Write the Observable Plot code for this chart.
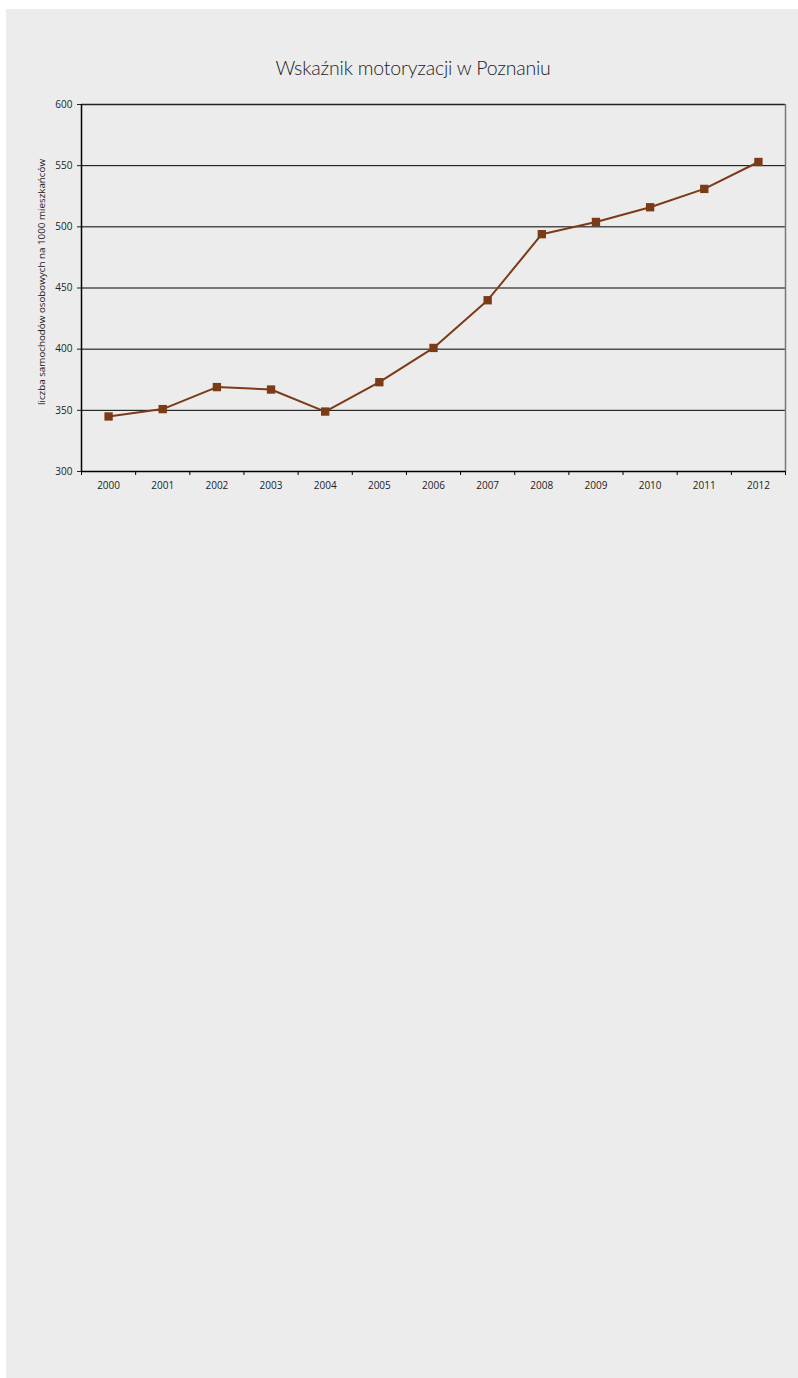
<!DOCTYPE html>
<html>
<head>
<meta charset="utf-8">
<script src="https://cdn.jsdelivr.net/npm/d3@7"></script>
<script src="https://cdn.jsdelivr.net/npm/@observablehq/plot@0.6"></script>
<style>
  html, body { margin: 0; padding: 0; background: #fff; }
  #panel { position: absolute; left: 6px; top: 9px; width: 792px; height: 1369px; background: #ececec; }
  #title { position: absolute; left: 0; top: 56px; width: 826px; text-align: center; font-family: Lato, "Open Sans", sans-serif; font-weight: 300; font-size: 19.5px; color: #222; letter-spacing: -0.2px; }
  #chart { position: absolute; left: 0; top: 0; }
</style>
</head>
<body>
<div id="panel"></div>
<div id="title">Wskaźnik motoryzacji w Poznaniu</div>
<div id="chart"></div>
<script>
const years = [2000, 2001, 2002, 2003, 2004, 2005, 2006, 2007, 2008, 2009, 2010, 2011, 2012];
const values = [345, 351, 369, 367, 349, 373, 401, 440, 494, 504, 516, 531, 553];
const yTicks = [300, 350, 400, 450, 500, 550, 600];
const yLabel = "liczba samochodów osobowych na 1000 mieszkańców";

const data = years.map((y, i) => ({year: y, value: values[i]}));
const bounds = years.map(y => y - 0.5).concat([years[years.length - 1] + 0.5]);

const chart = Plot.plot({
  width: 798,
  height: 500,
  marginLeft: 81,
  marginRight: 13,
  marginTop: 104,
  marginBottom: 29,
  style: {background: "transparent", fontFamily: "'Open Sans', sans-serif", fontSize: "10px", color: "#222"},
  x: {type: "linear", domain: [bounds[0], bounds[bounds.length - 1]]},
  y: {domain: [300, 600]},
  marks: [
    Plot.ruleY(yTicks.slice(1, -1), {stroke: "#000", strokeWidth: 1}),
    Plot.ruleY([600], {stroke: "#222", strokeWidth: 1.5}),
    Plot.ruleX([bounds[bounds.length - 1]], {stroke: "#777", strokeWidth: 1.5}),
    Plot.axisX({ticks: bounds, tickSize: 4, tickFormat: () => "", label: null, stroke: "#000"}),
    Plot.axisX({ticks: years, tickSize: 0, tickPadding: 10, tickFormat: d => String(d), label: null}),
    Plot.axisY({ticks: yTicks, tickSize: 4, tickPadding: 5, label: null}),
    Plot.text([yLabel], {frameAnchor: "left", text: d => d, textAnchor: "middle", rotate: -90, dx: -40, dy: -6, fontSize: 9.8, fill: "#222"}),
    Plot.ruleX([bounds[0]], {stroke: "#000", strokeWidth: 1.5}),
    Plot.ruleY([300], {stroke: "#000", strokeWidth: 1.5}),
    Plot.line(data, {x: "year", y: "value", stroke: "#7a3b16", strokeWidth: 2}),
    Plot.dot(data, {x: "year", y: "value", symbol: "square", r: 4.7, fill: "#7a3b16", stroke: "none"})
  ]
});
document.getElementById("chart").appendChild(chart);
</script>
</body>
</html>
